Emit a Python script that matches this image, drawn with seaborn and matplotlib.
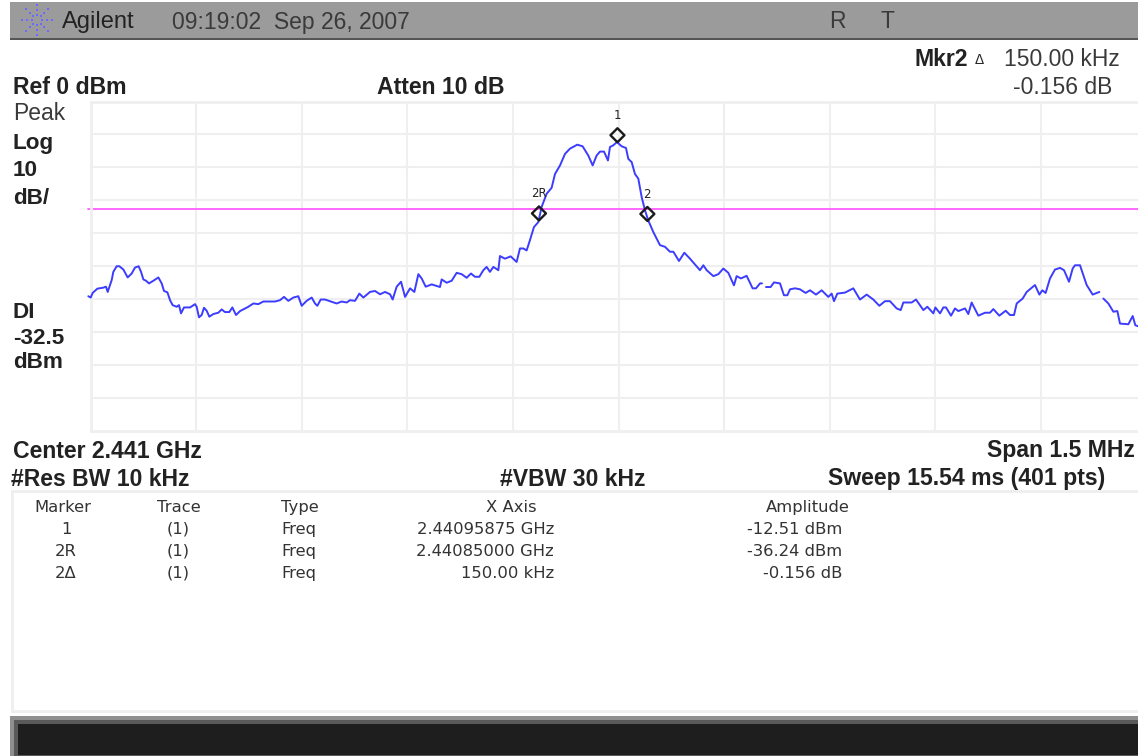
import numpy as np
import pandas as pd
import matplotlib
matplotlib.use("Agg")
import matplotlib.pyplot as plt
from matplotlib.patches import Rectangle
from matplotlib.path import Path
import seaborn as sns

W, H = 1138, 756

# Trace, kHz from center / dBm
trace_khz = [-753.1, -749.7, -746.9, -740.3, -731.8, -728, -725.6, -722.3, -719.9, -717.6, -712.8, -709, -703.3, -697.2,
             -691.5, -686.8, -681.6, -678.2, -674.9, -671.1, -666.9, -660.7, -653.6, -648.9, -645.6, -640.8, -637, -633.3,
             -627.6, -624.3, -621.4, -617.2, -608.6, -601.5, -599.2, -595.9, -592.1, -588.8, -585, -581.2, -575.5, -568.4,
             -563.7, -559, -552.8, -548.5, -543.3, -537.6, -530.5, -525.8, -518.7, -511.6, -504.5, -495, -487.9, -480.8,
             -475.1, -469, -461.9, -454.8, -450, -443, -435.8, -431.1, -427.8, -423, -416.9, -409.8, -400.3, -393.2,
             -386.1, -381.4, -374.3, -368.1, -362.4, -353, -345.9, -338.8, -331.6, -324.5, -320.8, -315.1, -308.9, -303.2,
             -296.1, -290, -284.3, -279.6, -273.9, -265.4, -253.6, -251.2, -244.1, -237, -229.9, -222.8, -215.7, -209.6,
             -203.9, -197.7, -192, -187.3, -182.6, -177.8, -170.7, -168.4, -161.3, -153.2, -144.7, -140, -135.2, -130.5,
             -125.8, -120.1, -113.9, -109.2, -102.1, -95, -90.2, -83.1, -76, -68.9, -58.5, -51, -42.9, -36.7,
             -31.1, -26.3, -20.6, -15, -12.1, -7.4, -2.2, 4.5, 10.6, 13.9, 18.7, 23.4, 28.1, 32.9,
             37.6, 42.3, 49.4, 54.2, 58.9, 66, 73.1, 77.9, 85.9, 93.5, 101.5, 115.7, 120.5, 125.2,
             134.7, 141.8, 148.9, 156, 164, 167.8, 174, 182, 190.5, 195.3, 201, 203.8, 209.5, 216.1,
             220.8, 229.4, 235, 239.8, 243.6, 250.7, 257.8, 265.8, 272, 280.5, 288.6, 298, 302.8, 306.1,
             310.8, 321.7, 333.5, 343, 352.5, 361.9, 370.5, 378.5, 385.6, 395.1, 400.8, 404.6, 416.4, 422.6,
             433, 438.7, 447.2, 450, 456.7, 461.4, 465.2, 472.3, 478, 482.7, 492.2, 496.9, 501.6, 511.1,
             520.6, 527.7, 532.4, 540.9, 549.9, 556.1, 561.8, 565.6, 574.1, 579.8, 591.6, 597.8, 602, 606.7,
             612.9, 620, 627.1, 632.8, 639.9, 645.1, 648.4, 655.5, 665, 673.5, 683, 688.7, 695.8, 702.9,
             708.6, 712.3, 724.2, 730.4, 734.1, 737.9]
trace_dbm = [-59.1, -59.5, -58.1, -56.8, -56.5, -56.2, -57.8, -55.7, -54.2, -51.7, -50, -50, -51, -53.4,
             -52.2, -50.4, -50, -51.7, -54, -54.4, -55.2, -54.4, -53.4, -55.2, -57.5, -57.9, -60.3, -61.8,
             -62.3, -61.8, -64.3, -62.5, -62.5, -61.5, -62.3, -65.5, -64.8, -62.6, -63.5, -65.3, -64.5, -64.1,
             -63.1, -63.9, -63.9, -62.5, -64.8, -63.6, -62.8, -62.3, -61.3, -61.5, -60.7, -60.7, -60.7, -60.3,
             -59.3, -60.5, -59.5, -59.1, -62, -60.5, -59.5, -61.3, -62, -60.1, -60.1, -60.6, -61.3, -60.7,
             -61, -60.3, -60.5, -58.3, -59.5, -57.8, -57.5, -58.5, -57.8, -58.5, -60.1, -56.2, -54.7, -59.3,
             -56.7, -57.8, -52.4, -53.7, -56.2, -55.5, -56.3, -54, -55, -54.4, -52, -52.4, -53.5, -52.2,
             -53.2, -53.2, -51.2, -50.2, -51.7, -50.2, -51.2, -46.9, -47.7, -47, -48.7, -44.6, -44.6, -45.2,
             -42.1, -38.1, -36.6, -32, -28, -26.2, -22, -19.4, -15.9, -14.3, -13.1, -13.6, -16.4, -19.4,
             -16.4, -15.2, -15.2, -17.9, -13.8, -13.3, -12.3, -13.6, -14.1, -17.4, -18.4, -22, -23.4, -29,
             -33, -36.1, -39.6, -41.6, -43.6, -44.1, -45.6, -45.6, -48.4, -45.9, -47.7, -51.2, -49.7, -51.2,
             -53, -52.4, -50.7, -52, -55.8, -53, -53.7, -52.9, -56.7, -56.7, -55.2, -55.2, -56.3, -56.3,
             -54.9, -55.2, -58.8, -58.8, -57, -56.7, -57, -58.1, -57.3, -58.6, -57.3, -59.3, -58.3, -60.6,
             -58.3, -58, -56.7, -60.1, -58.6, -60.1, -62, -60.6, -60.6, -62.8, -63.3, -61, -61, -60.1,
             -63.3, -62.3, -64.3, -62.5, -64.3, -62.5, -62.5, -65, -62.8, -63.6, -62.8, -64.5, -61, -65,
             -64.1, -64.1, -63, -65, -63.5, -64.8, -64.8, -61.3, -59.8, -57.8, -55.7, -58.6, -57.3, -58.1,
             -53.7, -51, -50.5, -51.2, -54.7, -50.7, -49.7, -49.7, -55.7, -58.6, -57.8, -59.8, -61.3, -63.8,
             -63.6, -67.4, -67.6, -65.1, -67.9, -68.2]
# The trace has two little dropouts on screen
trace_gaps = [206, 686]

display_line = -32.5
marker_names = ["1", "2R", "2"]
marker_khz = [-1.5, -113, 41]
marker_dbm = [-12.51, -36.24, -36.4]

table_header = ["Marker", "Trace", "Type", "X Axis", "Amplitude"]
table_marker = ["1", "2R", "2\u0394"]
table_trace = ["(1)", "(1)", "(1)"]
table_type = ["Freq", "Freq", "Freq"]
table_x = ["2.44095875 GHz", "2.44085000 GHz", "150.00 kHz"]
table_amp = ["-12.51 dBm", "-36.24 dBm", "-0.156 dB"]

sns.set_theme(style="whitegrid", rc={"grid.color": "#efefef", "grid.linewidth": 1.5, "axes.edgecolor": "#efefef",
                                     "axes.linewidth": 2.0})
plt.rcParams["font.family"] = ["Liberation Sans", "DejaVu Sans"]
fig = plt.figure(figsize=(W / 100, H / 100), dpi=100, facecolor="white")

# Everything around the graticule goes on a full-figure axes in screen pixels
bg = fig.add_axes([0, 0, 1, 1], zorder=0)
bg.set_xlim(0, W)
bg.set_ylim(H, 0)
bg.axis("off")


def box(x, y, w, h, color):
    bg.add_patch(Rectangle((x, y), w, h, facecolor=color, edgecolor="none"))


def label(x, y, s, size=16.6, bold=False, ha="left", color="#222222", family=None):
    # center_baseline sits a touch low on this font
    bg.text(x, y - 1.5, s, fontsize=size, fontweight="bold" if bold else "normal", ha=ha, va="center_baseline",
            color=color, family=family or plt.rcParams["font.family"])


# Title bar
box(10, 2, W - 10, 36, "#9b9b9b")
box(10, 38, W - 10, 2, "#555555")
for ang in np.arange(0, 360, 45):
    for r in (5, 10, 15):
        bg.plot(37 + r * np.cos(np.radians(ang)), 20 + r * np.sin(np.radians(ang)), "s", ms=1.6, color="#6a6aff", mew=0)
label(62, 21, "Agilent", 17)
label(172, 21, "09:19:02  Sep 26, 2007", 16.5, color="#3a3a3a")
label(829, 21, "R", 16.5, color="#3a3a3a")
label(881, 21, "T", 16.5, color="#3a3a3a")

# Readouts above the graticule
label(915, 59, "Mkr2", 16.6, True)
label(975, 60, "\u0394", 10)
label(1120, 59, "150.00 kHz", 16.5, ha="right", color="#3a3a3a")
label(13, 87, "Ref 0 dBm", 16.6, True)
label(377, 87, "Atten 10 dB", 16.6, True)
label(1112, 87, "-0.156 dB", 16.5, ha="right", color="#3a3a3a")

# Left column
label(13, 113, "Peak", 16.5, color="#3a3a3a")
for y, s in zip([142, 170, 198, 312, 337, 362], ["Log", "10", "dB/", "DI", "-32.5", "dBm"]):
    label(13, y, s, 16.2, True)

# Under the graticule
label(13, 450, "Center 2.441 GHz", 16.6, True)
label(1135, 450, "Span 1.5 MHz", 16.6, True, ha="right")
label(11, 478, "#Res BW 10 kHz", 16.6, True)
label(500, 478, "#VBW 30 kHz", 16.6, True)
label(828, 478, "Sweep 15.54 ms (401 pts)", 16.6, True)

# Marker table panel
box(11, 490, W - 11, 3, "#efefef")
box(11, 490, 3, 223, "#efefef")
box(11, 710, W - 11, 3, "#efefef")
tf = "DejaVu Sans"
tc = "#333333"
ts = 11.8
for x, s in zip([63, 179, 300, 511, 808], table_header):
    label(x, 507.5, s, ts, ha="center", color=tc, family=tf)
for y, m, t, ty, xv, a in zip([529.5, 551.5, 573.5], table_marker, table_trace, table_type, table_x, table_amp):
    label(66, y, m, ts, ha="center", color=tc, family=tf)
    label(178, y, t, ts, ha="center", color=tc, family=tf)
    label(281, y, ty, ts, color=tc, family=tf)
    label(554, y, xv, ts, ha="right", color=tc, family=tf)
    label(842, y, a, ts, ha="right", color=tc, family=tf)

# Softkey bar at the bottom
box(10, 716, W - 10, 40, "#8f8f8f")
box(14, 720, W - 14, 36, "#5a5a5a")
box(18, 724, W - 18, 31, "#1e1e1e")

# Graticule: 10 dB/div from 0 dBm, 150 kHz/div, right edge runs off the screenshot
left, right, top, bottom = 90.5, W, 101.5, 431
ax = fig.add_axes([left / W, 1 - bottom / H, (right - left) / W, (bottom - top) / H], zorder=1)
ax.patch.set_alpha(0)
ax.set_xlim(-750, 737.9)
ax.set_ylim(-100, 0)
ax.set_xticks(np.arange(-600, 737, 150))
ax.set_yticks(np.arange(-90, 0, 10))
ax.tick_params(left=False, bottom=False, labelleft=False, labelbottom=False)
ax.spines["right"].set_visible(False)

ax.axhline(display_line, xmin=-0.002, color="#ff5cff", lw=1.3, zorder=2, clip_on=False)

trace = pd.DataFrame({"khz": trace_khz, "dbm": trace_dbm})
trace["segment"] = np.searchsorted(trace_gaps, trace["khz"])
sns.lineplot(data=trace, x="khz", y="dbm", units="segment", estimator=None, sort=False, color="#3c3cff", lw=1.4,
             ax=ax, clip_on=False, zorder=3)
ax.set_xlabel("")
ax.set_ylabel("")

# Diamond sits just above the trace, its lower tip on the marker point
diamond = Path([(0, 0.07), (1, 1.07), (0, 2.07), (-1, 1.07), (0, 0.07)], closed=True)
sns.scatterplot(x=marker_khz, y=marker_dbm, marker=diamond, s=436, facecolor="none", edgecolor="#1a1a1a",
                linewidth=1.7, ax=ax, zorder=4, clip_on=False)
for name, x, y in zip(marker_names, marker_khz, marker_dbm):
    ax.annotate(name, (x, y), xytext=(0, 19.5), textcoords="offset points", ha="center", va="center", fontsize=8.5,
                color="#222222", family="DejaVu Sans", zorder=5)

fig.savefig("out.png", dpi=100)
